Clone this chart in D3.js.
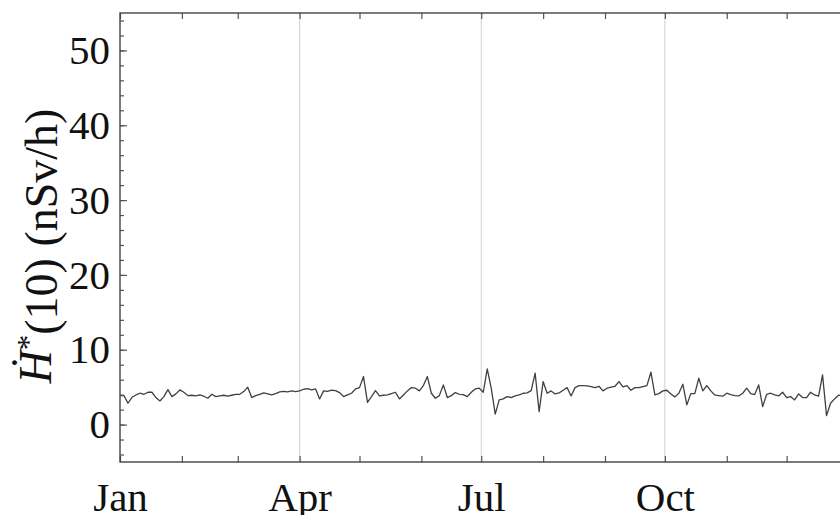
<!DOCTYPE html>
<html>
<head>
<meta charset="utf-8">
<script src="https://cdn.jsdelivr.net/npm/d3@7/dist/d3.min.js"></script>
<style>
  body { margin: 0; background: #fff; }
  svg { display: block; }
</style>
</head>
<body>
<svg id="chart"></svg>
<script>
// dose-rate readings, one every 2 days from Jan 1
var startDate = new Date(2021, 0, 1);
var endDate = new Date(2022, 0, 1);
var stepDays = 2;
var doseRate = [
  3.87, 3.87, 2.85, 3.65, 3.96, 4.19, 4.05, 4.32, 4.32, 3.61, 3.16, 3.74, 4.68, 3.74, 4.10, 4.63,
  4.32, 3.87, 3.92, 3.83, 3.96, 3.79, 3.52, 4.05, 3.74, 3.83, 3.92, 3.79, 3.92, 4.05, 4.05, 4.41,
  5.00, 3.61, 3.87, 4.05, 4.23,
  4.10, 3.96, 4.14, 4.37, 4.45, 4.37, 4.50, 4.41, 4.50, 4.72, 4.81, 4.63, 4.77, 3.43, 4.50, 4.45,
  4.59, 4.54, 4.28, 3.74, 3.96, 4.19, 4.77, 4.94, 6.42, 2.98, 3.74, 4.54, 3.83, 3.92, 3.96, 4.14,
  4.32, 3.43, 3.96, 4.50,
  4.94, 4.86, 4.50, 5.21, 6.42, 4.19, 3.52, 3.87, 5.30, 3.61, 3.87, 4.28, 4.05, 4.01, 3.74, 4.32,
  4.77, 4.86, 4.32, 7.44, 4.86, 1.40, 3.30, 3.43, 3.74, 3.61, 3.83, 3.96, 4.19, 4.23, 4.54, 6.86,
  1.74, 5.75, 4.19, 4.50,
  4.10, 4.23, 4.59, 4.94, 3.83, 4.94, 5.21, 5.21, 5.17, 5.08, 4.94, 5.12, 4.50, 4.86, 4.99, 5.12,
  5.75, 5.03, 5.21, 4.59, 4.94, 4.94, 5.08, 5.21, 7.00, 3.96, 4.14, 4.50, 4.59, 4.10, 3.70, 4.19,
  5.39, 2.63, 4.14, 4.14,
  6.19, 4.50, 5.21, 4.50, 3.96, 3.87, 3.79, 4.19, 4.01, 3.87, 3.83, 4.19, 4.86, 4.14, 4.01, 5.30,
  2.40, 4.05, 4.19, 3.96, 3.83, 4.32, 3.61, 3.74, 3.30, 4.10, 3.61, 3.61, 4.32, 3.96, 3.79, 6.64,
  1.20, 2.85, 3.43, 3.92, 3.87, 3.90
];
var yTicksMajor = [0, 10, 20, 30, 40, 50];
var yTicksMinor = d3.range(-4, 55, 2);
var monthLabels = ["Jan", "Apr", "Jul", "Oct"];

function draw() {
    "use strict";
    var W = 840, H = 515;
    var mLeft = 120, mTop = 13, mRight = 848.5, mBottom = 462;
    var fontFam = "'Liberation Serif', 'Times New Roman', serif";

    var svg = d3.select("#chart")
        .attr("width", W)
        .attr("height", H)
        .style("background-color", "white");

    var data = doseRate.map(function (v, i) {
        return {date: d3.timeDay.offset(startDate, i * stepDays), value: v};
    });

    var x = d3.scaleTime()
        .domain([startDate, endDate])
        .range([mLeft, mRight]);
    var y = d3.scaleLinear()
        .domain([-5, 55])
        .range([mBottom, mTop]);

    // vertical gridlines at the quarter months
    var quarters = d3.timeMonth.range(new Date(2021, 3, 1), endDate, 3);
    svg.append("g").selectAll("line")
        .data(quarters)
        .enter()
        .append("line")
        .attr("x1", function (d) { return x(d); })
        .attr("x2", function (d) { return x(d); })
        .attr("y1", mTop)
        .attr("y2", mBottom)
        .attr("stroke", "#cfcfcf")
        .attr("stroke-width", 1);

    // the series
    var line = d3.line()
        .x(function (d) { return x(d.date); })
        .y(function (d) { return y(d.value); });
    svg.append("path")
        .datum(data)
        .attr("d", line)
        .attr("fill", "none")
        .attr("stroke", "#404040")
        .attr("stroke-width", 1.3)
        .attr("stroke-linejoin", "round");

    // frame axes, ticks pointing in
    var months = d3.timeMonth.range(startDate, endDate);
    var fmt = d3.timeFormat("%b");
    var xBottom = d3.axisBottom(x)
        .tickValues(months)
        .tickSize(-6)
        .tickPadding(20)
        .tickFormat(function (d) {
            var m = fmt(d);
            return monthLabels.indexOf(m) >= 0 ? m : "";
        });
    var xTop = d3.axisTop(x).tickValues(months).tickSize(-6).tickFormat("");
    var yMinor = d3.axisLeft(y).tickValues(yTicksMinor).tickSize(-4).tickFormat("");
    var yMajor = d3.axisLeft(y).tickValues(yTicksMajor).tickSize(-7).tickPadding(10);

    function style(g) {
        g.select(".domain").remove();
        g.selectAll(".tick line").attr("stroke", "#555").attr("stroke-width", 1.2);
        g.selectAll("text")
            .attr("fill", "#111")
            .style("font-family", fontFam)
            .style("font-size", "41px");
    }

    svg.append("g").attr("transform", "translate(0," + mBottom + ")").call(xBottom).call(style);
    svg.append("g").attr("transform", "translate(0," + mTop + ")").call(xTop).call(style);
    svg.append("g").attr("transform", "translate(" + mLeft + ",0)").call(yMinor).call(style);
    svg.append("g").attr("transform", "translate(" + mLeft + ",0)").call(yMajor).call(style);

    svg.append("rect")
        .attr("x", mLeft)
        .attr("y", mTop)
        .attr("width", mRight - mLeft)
        .attr("height", mBottom - mTop)
        .attr("fill", "none")
        .attr("stroke", "#444")
        .attr("stroke-width", 1.4);

    // y title: H-dot*(10) (nSv/h)
    var title = svg.append("text")
        .attr("transform", "translate(51,246) rotate(-90)")
        .attr("text-anchor", "middle")
        .attr("fill", "#111")
        .style("font-family", fontFam)
        .style("font-size", "46px");
    title.append("tspan").style("font-style", "italic").text("\u1E22");
    title.append("tspan").attr("dy", "-0.4em").style("font-size", "31px").text("*");
    title.append("tspan").attr("dy", "0.4em").text("(10) (nSv/h)");
}

draw();
</script>
</body>
</html>
